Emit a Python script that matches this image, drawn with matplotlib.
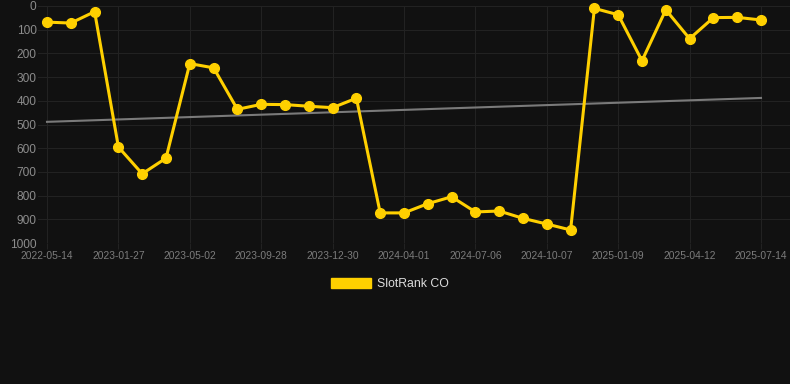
import numpy as np
import matplotlib
matplotlib.use("Agg")
import matplotlib.pyplot as plt
from matplotlib.patches import Patch

plt.rcParams['font.family'] = ['Liberation Sans', 'DejaVu Sans']

# rank values (lower is better)
ranks = [68, 72, 24, 595, 708, 642, 243, 261, 436, 415, 416, 423, 429, 389,
         873, 873, 834, 805, 869, 865, 896, 920, 945, 10, 37, 231, 16, 138,
         49, 48, 59]
tick_labels = ['2022-05-14', '2023-01-27', '2023-05-02', '2023-09-28',
               '2023-12-30', '2024-04-01', '2024-07-06', '2024-10-07',
               '2025-01-09', '2025-04-12', '2025-07-14']
series_name = 'SlotRank CO'

bg = '#111111'
gold = '#FFD000'

x = np.arange(len(ranks))
slope, icpt = np.polyfit(x, ranks, 1)
trend = slope * x + icpt

fig = plt.figure(figsize=(7.9, 3.84), dpi=100, facecolor=bg)
ax = fig.add_axes([38 / 790, (384 - 243) / 384, 752 / 790, 237 / 384])
ax.set_facecolor(bg)

ax.plot(x, trend, color='#7a7a7a', lw=1.5, zorder=2)
ax.plot(x, ranks, color=gold, lw=2.2, marker='o', ms=7, mec=gold, mfc=gold,
        zorder=3, clip_on=False)

# first point sits at 47px, last at 761px
ax.set_xlim(-(47 - 38) / 23.8, 30 + (790 - 761) / 23.8)
ax.set_ylim(1000, 0)
ax.set_yticks(range(0, 1001, 100))
ax.set_xticks(x[::3])
ax.set_xticklabels(tick_labels)
ax.tick_params(axis='y', colors='#8c8c8c', labelsize=8.6, length=0, pad=1)
ax.tick_params(axis='x', colors='#7c7c7c', labelsize=7.4, length=4, width=0.8,
               pad=2, color='#222222')
ax.grid(True, color='#222222', lw=0.8)
for s in ax.spines.values():
    s.set_visible(False)
ax.set_axisbelow(True)

leg = fig.legend(handles=[Patch(facecolor=gold, edgecolor=gold, label=series_name)],
                 loc='center', bbox_to_anchor=(390 / 790, 1 - 284 / 384),
                 frameon=False, fontsize=8.8, handlelength=3.3, handleheight=0.9,
                 handletextpad=0.5)
for t in leg.get_texts():
    t.set_color('#dddddd')

fig.savefig('out.png', dpi=100, facecolor=bg)
